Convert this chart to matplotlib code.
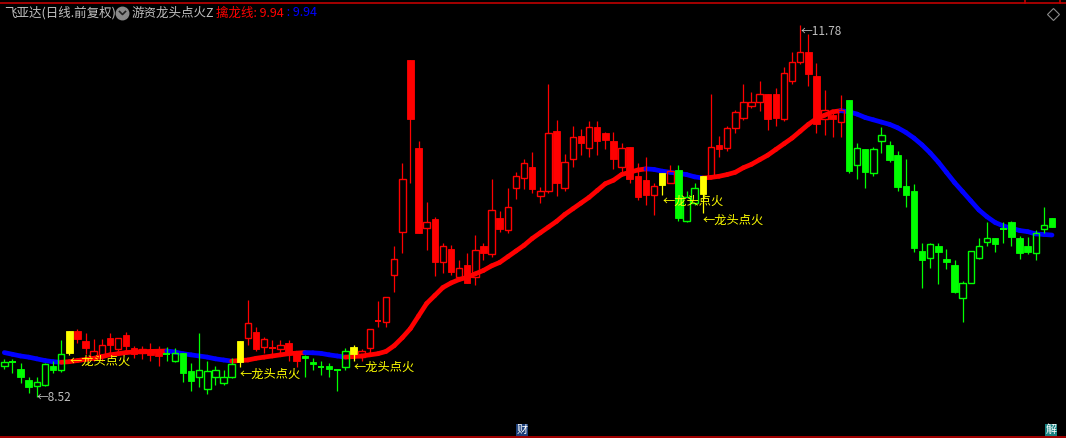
import matplotlib
matplotlib.use("Agg")
import matplotlib.pyplot as plt
from matplotlib.patches import Rectangle
from matplotlib.collections import LineCollection
from matplotlib.lines import Line2D

plt.rcParams['font.family'] = ['Noto Sans CJK SC', 'DejaVu Sans']

# daily K-line of 飞亚达 (prices)
opens = [8.79, 8.83, 8.77, 8.67, 8.62, 8.63, 8.79, 8.76, 8.91, 9.10,
         9.01, 8.86, 8.87, 9.04, 8.94, 9.06, 8.95, 8.91, 8.92, 8.92,
         8.90, 8.84, 8.91, 8.75, 8.70, 8.59, 8.70, 8.64, 8.70, 8.83,
         9.04, 9.09, 8.96, 8.95, 8.94, 8.99, 8.91, 8.88, 8.83, 8.78,
         8.79, 8.76, 8.78, 8.90, 8.87, 8.95, 9.19, 9.18, 9.59, 9.97,
         11.47, 10.70, 10.00, 10.08, 9.70, 9.82, 9.57, 9.68, 9.57, 9.84,
         9.77, 10.09, 9.98, 10.35, 10.44, 10.54, 10.28, 10.33, 10.85, 10.35,
         10.61, 10.81, 10.70, 10.89, 10.83, 10.76, 10.54, 10.71, 10.46, 10.42,
         10.29, 10.38, 10.40, 10.51, 10.06, 10.22, 10.30, 10.45, 10.73, 10.70,
         10.88, 10.97, 11.07, 11.11, 11.18, 11.18, 10.96, 11.29, 11.46, 11.54,
         11.33, 10.96, 10.99, 10.93, 11.12, 10.55, 10.69, 10.48, 10.76, 10.73,
         10.64, 10.37, 10.33, 9.80, 9.74, 9.84, 9.73, 9.68, 9.39, 9.52,
         9.74, 9.88, 9.91, 9.99, 10.05, 9.91, 9.84, 9.78, 9.99, 10.09]
highs = [8.85, 8.85, 8.82, 8.70, 8.70, 8.82, 8.84, 9.02, 9.10, 9.12,
         9.08, 9.03, 9.03, 9.08, 9.04, 9.09, 8.97, 8.97, 8.99, 8.97,
         8.96, 8.95, 8.91, 8.82, 9.08, 8.84, 8.79, 8.76, 8.86, 9.01,
         9.37, 9.13, 9.05, 9.02, 9.02, 9.02, 8.92, 8.89, 8.86, 8.84,
         8.82, 8.77, 8.95, 8.98, 8.94, 9.12, 9.36, 9.40, 9.84, 10.57,
         11.47, 10.76, 10.23, 10.10, 9.87, 9.85, 9.72, 9.78, 9.94, 9.87,
         10.43, 10.15, 10.35, 10.49, 10.61, 10.67, 10.36, 11.26, 10.95, 10.65,
         10.90, 10.87, 10.94, 10.94, 10.84, 10.84, 10.75, 10.71, 10.57, 10.62,
         10.40, 10.48, 10.55, 10.55, 10.33, 10.40, 10.46, 11.18, 10.81, 10.90,
         11.04, 11.26, 11.19, 11.29, 11.18, 11.23, 11.41, 11.54, 11.78, 11.70,
         11.45, 11.21, 11.03, 11.17, 11.12, 10.75, 10.69, 10.71, 10.89, 10.76,
         10.68, 10.61, 10.39, 9.87, 9.87, 9.87, 9.82, 9.72, 9.54, 9.80,
         9.91, 10.05, 9.91, 10.05, 10.06, 9.93, 9.92, 9.98, 10.19, 10.09]
lows = [8.77, 8.73, 8.64, 8.56, 8.52, 8.62, 8.73, 8.74, 8.89, 8.99,
        8.90, 8.84, 8.84, 8.89, 8.92, 8.93, 8.86, 8.85, 8.84, 8.79,
        8.84, 8.83, 8.65, 8.57, 8.61, 8.55, 8.63, 8.63, 8.69, 8.78,
        8.98, 8.92, 8.91, 8.88, 8.90, 8.84, 8.78, 8.70, 8.76, 8.71,
        8.70, 8.57, 8.76, 8.84, 8.84, 8.91, 9.13, 9.13, 9.44, 9.78,
        10.40, 9.96, 9.81, 9.58, 9.61, 9.59, 9.55, 9.52, 9.50, 9.72,
        9.75, 9.97, 9.96, 10.26, 10.34, 10.31, 10.22, 10.31, 10.28, 10.33,
        10.54, 10.64, 10.62, 10.64, 10.69, 10.52, 10.49, 10.40, 10.25, 10.20,
        10.12, 10.29, 10.40, 10.06, 10.05, 10.20, 10.13, 10.44, 10.62, 10.68,
        10.83, 10.95, 11.05, 11.03, 10.86, 10.90, 10.94, 11.26, 11.44, 11.25,
        10.83, 10.82, 10.80, 10.80, 10.48, 10.43, 10.35, 10.46, 10.66, 10.58,
        10.33, 10.19, 9.79, 9.48, 9.65, 9.51, 9.64, 9.43, 9.18, 9.52,
        9.73, 9.84, 9.79, 9.87, 9.84, 9.73, 9.77, 9.72, 9.96, 10.01]
closes = [8.83, 8.83, 8.70, 8.61, 8.65, 8.81, 8.76, 8.90, 9.10, 9.03,
          8.95, 8.92, 8.98, 8.98, 9.04, 8.97, 8.90, 8.94, 8.89, 8.88,
          8.90, 8.91, 8.73, 8.66, 8.76, 8.75, 8.76, 8.70, 8.81, 9.01,
          9.17, 8.94, 9.03, 8.95, 8.98, 8.91, 8.84, 8.86, 8.81, 8.78,
          8.77, 8.76, 8.92, 8.96, 8.92, 9.12, 9.19, 9.40, 9.73, 10.43,
          10.96, 9.96, 10.05, 9.70, 9.84, 9.62, 9.65, 9.52, 9.81, 9.78,
          10.16, 9.99, 10.19, 10.46, 10.57, 10.34, 10.33, 10.83, 10.40, 10.58,
          10.80, 10.75, 10.89, 10.76, 10.77, 10.61, 10.70, 10.43, 10.27, 10.29,
          10.37, 10.48, 10.50, 10.09, 10.27, 10.35, 10.46, 10.71, 10.69, 10.88,
          11.02, 11.11, 11.11, 11.18, 10.96, 10.97, 11.36, 11.46, 11.54, 11.35,
          10.91, 11.04, 10.96, 11.04, 10.50, 10.70, 10.49, 10.69, 10.82, 10.60,
          10.36, 10.29, 9.83, 9.72, 9.86, 9.79, 9.70, 9.44, 9.52, 9.80,
          9.84, 9.91, 9.86, 9.99, 9.92, 9.78, 9.79, 9.96, 10.03, 10.01]

# candle colour class: r = red, g = green, y = yellow signal bar
kcolor = list("gggggggg" "y" "rrrrrrrrrrr" "ggggggggg" "y" "rrrrrrr" "gggggg" "y"
              + "r" * 37 + "y" + "r" + "ggg" + "y" + "r" * 17 + "g" * 26)

# 擒龙线
qlx = [8.91, 8.895, 8.88, 8.87, 8.855, 8.84, 8.83, 8.825, 8.83, 8.84,
       8.85, 8.86, 8.875, 8.89, 8.90, 8.91, 8.915, 8.918, 8.92, 8.922,
       8.924, 8.915, 8.90, 8.89, 8.88, 8.87, 8.855, 8.845, 8.835, 8.84,
       8.845, 8.86, 8.87, 8.88, 8.89, 8.90, 8.905, 8.91, 8.908, 8.903,
       8.89, 8.88, 8.87, 8.875, 8.88, 8.89, 8.90, 8.92, 8.97, 9.04,
       9.12, 9.23, 9.34, 9.41, 9.48, 9.52, 9.55, 9.57, 9.60, 9.63,
       9.67, 9.70, 9.75, 9.80, 9.85, 9.91, 9.96, 10.01, 10.06, 10.12,
       10.17, 10.22, 10.27, 10.33, 10.39, 10.42, 10.47, 10.49, 10.51, 10.52,
       10.515, 10.50, 10.49, 10.48, 10.47, 10.45, 10.44, 10.445, 10.455, 10.47,
       10.49, 10.53, 10.56, 10.60, 10.64, 10.69, 10.74, 10.79, 10.85, 10.91,
       10.96, 10.99, 11.02, 11.03, 11.02, 11.00, 10.97, 10.95, 10.93, 10.91,
       10.88, 10.84, 10.79, 10.73, 10.66, 10.58, 10.49, 10.40, 10.32, 10.24,
       10.16, 10.10, 10.05, 10.02, 10.00, 9.98, 9.97, 9.95, 9.945, 9.94]

signals = [8, 29, 43, 81, 86]
signal_text = "←龙头点火"
low_idx, high_idx = 4, 98

RED = '#ff0000'
GREEN = '#00ff00'
YELLOW = '#ffff00'
BLUE = '#0000ff'
GRAY = '#c0c0c0'
cmap = {'r': RED, 'g': GREEN, 'y': YELLOW}

W, H = 1066, 438
fig = plt.figure(figsize=(W / 100, H / 100), dpi=100, facecolor='black')
ax = fig.add_axes([0, 0, 1, 1])
ax.set_facecolor('black')
ax.axis('off')
step = (1052 - 4.3) / 129
xmin = -4.3 / step
ax.set_xlim(xmin, xmin + W / step)
ax.set_ylim(12.0 - H / 114.1, 12.0)

# indicator line: red while rising, blue while falling
segs, cols = [], []
for i in range(1, len(qlx)):
    segs.append([(i - 1, qlx[i - 1]), (i, qlx[i])])
    cols.append(RED if qlx[i] > qlx[i - 1] else BLUE)
ax.add_collection(LineCollection(segs, colors=cols, linewidths=3.4, zorder=2, capstyle='round'))

bw = 0.8
for i in range(len(opens)):
    o, h, l, c = opens[i], highs[i], lows[i], closes[i]
    col = cmap[kcolor[i]]
    top, bot = max(o, c), min(o, c)
    if kcolor[i] == 'y' or c < o:
        ax.vlines(i, l, h, color=col, lw=0.9, zorder=3)
        ax.add_patch(Rectangle((i - bw / 2, bot), bw, top - bot, facecolor=col,
                               edgecolor=col, lw=0.6, zorder=4))
    elif c > o:
        ax.vlines(i, top, h, color=col, lw=0.9, zorder=3)
        ax.vlines(i, l, bot, color=col, lw=0.9, zorder=3)
        ax.add_patch(Rectangle((i - bw / 2, bot), bw, top - bot, facecolor='none',
                               edgecolor=col, lw=1.0, zorder=4))
    else:
        ax.vlines(i, l, h, color=col, lw=0.9, zorder=3)
        ax.hlines(o, i - bw / 2, i + bw / 2, color=col, lw=1.4, zorder=4)

for i in signals:
    ax.text(i, lows[i], signal_text, color=YELLOW, fontsize=8.8, ha='left', va='top', zorder=5)

ax.text(low_idx, lows[low_idx], "←" + format(lows[low_idx], '.2f'), color=GRAY,
        fontsize=8.5, ha='left', va='center', zorder=5)
ax.text(high_idx, highs[high_idx], "←" + format(highs[high_idx], '.2f'), color=GRAY,
        fontsize=8.5, ha='left', va='top', zorder=5)


def px(x, y):
    return x / W, 1 - y / H


# header
fig.text(*px(4, 13), "飞亚达(日线.前复权)", color=GRAY, fontsize=9, va='center')
fig.add_artist(Line2D([px(122.5, 13)[0]], [px(122.5, 13)[1]], marker='o', ms=9,
                      color='#8a8a8a', transform=fig.transFigure))
fig.add_artist(Line2D([px(119.5, 11.5)[0], px(122.5, 14.5)[0], px(125.5, 11.5)[0]],
                      [px(119.5, 11.5)[1], px(122.5, 14.5)[1], px(125.5, 11.5)[1]],
                      color='#202020', lw=1.2, transform=fig.transFigure))
fig.text(*px(132, 13), "游资龙头点火Z", color=GRAY, fontsize=9, va='center')
fig.text(*px(216, 13), "擒龙线: " + format(qlx[-1], '.2f'), color=RED, fontsize=9, va='center')
fig.text(*px(284, 13), " : " + format(qlx[-1], '.2f'), color=BLUE, fontsize=9, va='center')
fig.add_artist(Line2D([px(1053, 14)[0]], [px(1053, 14)[1]], marker='D', ms=6.5,
                      mfc='none', mec='#8a8a8a', mew=0.8, transform=fig.transFigure))

# frame lines
fig.add_artist(Line2D([0, 1], [px(0, 3)[1]] * 2, color='#c00000', lw=1.2, transform=fig.transFigure))
for xx in (1025, 1060):
    fig.add_artist(Line2D([px(xx, 0)[0]] * 2, [1, px(0, 3)[1]], color='#c00000', lw=1.2,
                          transform=fig.transFigure))
fig.add_artist(Line2D([0, 1], [px(0, 437)[1]] * 2, color='#c00000', lw=1.2, transform=fig.transFigure))

fig.text(*px(522, 430), "财", color='white', fontsize=8, ha='center', va='center',
         bbox=dict(boxstyle='square,pad=0.05', fc='#1c3f7a', ec='none'))
fig.text(*px(1051, 430), "解", color='white', fontsize=8, ha='center', va='center',
         bbox=dict(boxstyle='square,pad=0.05', fc='#168080', ec='none'))

fig.savefig("out.png", dpi=100, facecolor='black')
